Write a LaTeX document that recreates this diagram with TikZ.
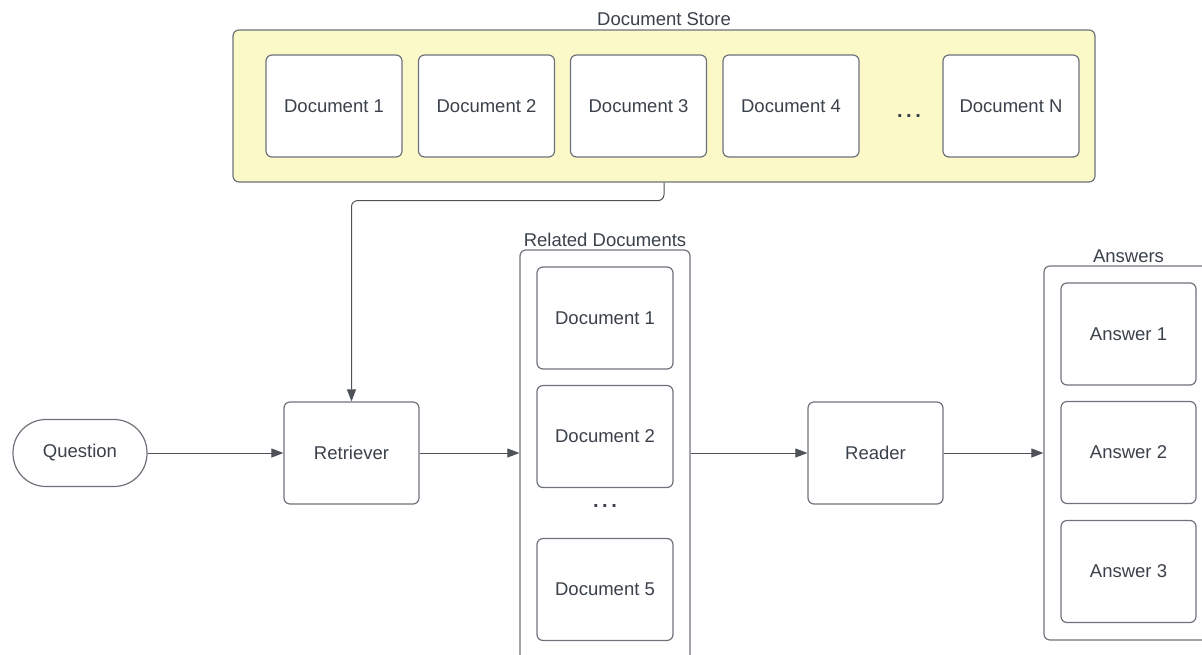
\documentclass[tikz,border=0pt]{standalone}
\usepackage{fontspec}
\setmainfont{Liberation Sans}
\usetikzlibrary{arrows.meta}
\definecolor{txt}{HTML}{3A414A}
\definecolor{edge}{HTML}{6E737B}
\definecolor{conn}{HTML}{4D5259}
\definecolor{storefill}{HTML}{FCF9C9}
\newcommand{\mydots}{\fontsize{20}{20}\selectfont\textbf{.\hspace{3.5pt}.\hspace{3.5pt}.}}
\begin{document}
\begin{tikzpicture}[x=1pt,y=-1pt,
  font=\fontsize{18.5}{21}\selectfont, text=txt,
  box/.style={draw=edge, line width=1.2pt, rounded corners=6pt, fill=white,
    minimum width=136pt, minimum height=102pt, inner sep=0pt},
  frame/.style={draw=edge, line width=1.2pt, rounded corners=6pt, inner sep=0pt},
  lbl/.style={inner sep=0pt},
  arr/.style={draw=conn, line width=1pt, -{Triangle[length=12pt,width=9pt]}}]
\useasboundingbox (0,0) rectangle (1202,654);
\clip (0,0) rectangle (1202,654);
% Document store
\node[frame, fill=storefill, minimum width=862pt, minimum height=152pt] (store) at (664,106) {};
\node[lbl] (storelbl) at (664,19) {Document Store};
\node[box] (d1) at (334,106) {Document 1};
\node[box] (d2) at (486.5,106) {Document 2};
\node[box] (d3) at (638.5,106) {Document 3};
\node[box] (d4) at (791,106) {Document 4};
\node[lbl] (sdots) at (909,116) {\mydots};
\node[box] (dn) at (1011,106) {Document N};
% Question and retriever
\node[box, minimum width=134pt, minimum height=67pt, rounded corners=33pt] (question) at (80,453) {Question};
\node[box, minimum width=135pt] (retriever) at (351.5,453) {Retriever};
% Related documents
\node[frame, minimum width=170pt, minimum height=420pt] (related) at (605,460) {};
\node[lbl] (rellbl) at (605,240) {Related Documents};
\node[box] (r1) at (605,318) {Document 1};
\node[box] (r2) at (605,436.5) {Document 2};
\node[lbl] (rdots) at (605,506) {\mydots};
\node[box] (r5) at (605,589.5) {Document 5};
% Reader
\node[box, minimum width=135pt] (reader) at (875.5,453) {Reader};
% Answers
\node[frame, minimum width=169pt, minimum height=374pt] (answers) at (1128.5,453) {};
\node[lbl] (anslbl) at (1128.5,256) {Answers};
\node[box, minimum width=135pt] (a1) at (1128.5,334) {Answer 1};
\node[box, minimum width=135pt] (a2) at (1128.5,452.5) {Answer 2};
\node[box, minimum width=135pt] (a3) at (1128.5,571.5) {Answer 3};
% Connectors
\draw[arr, rounded corners=6pt] (store.south) -- ++(0,18) -| (retriever.north);
\draw[arr] (question.east) -- (retriever.west);
\draw[arr] (retriever.east) -- (retriever.east -| related.west);
\draw[arr] (related.east |- reader.west) -- (reader.west);
\draw[arr] (reader.east) -- (reader.east -| answers.west);
\end{tikzpicture}
\end{document}
